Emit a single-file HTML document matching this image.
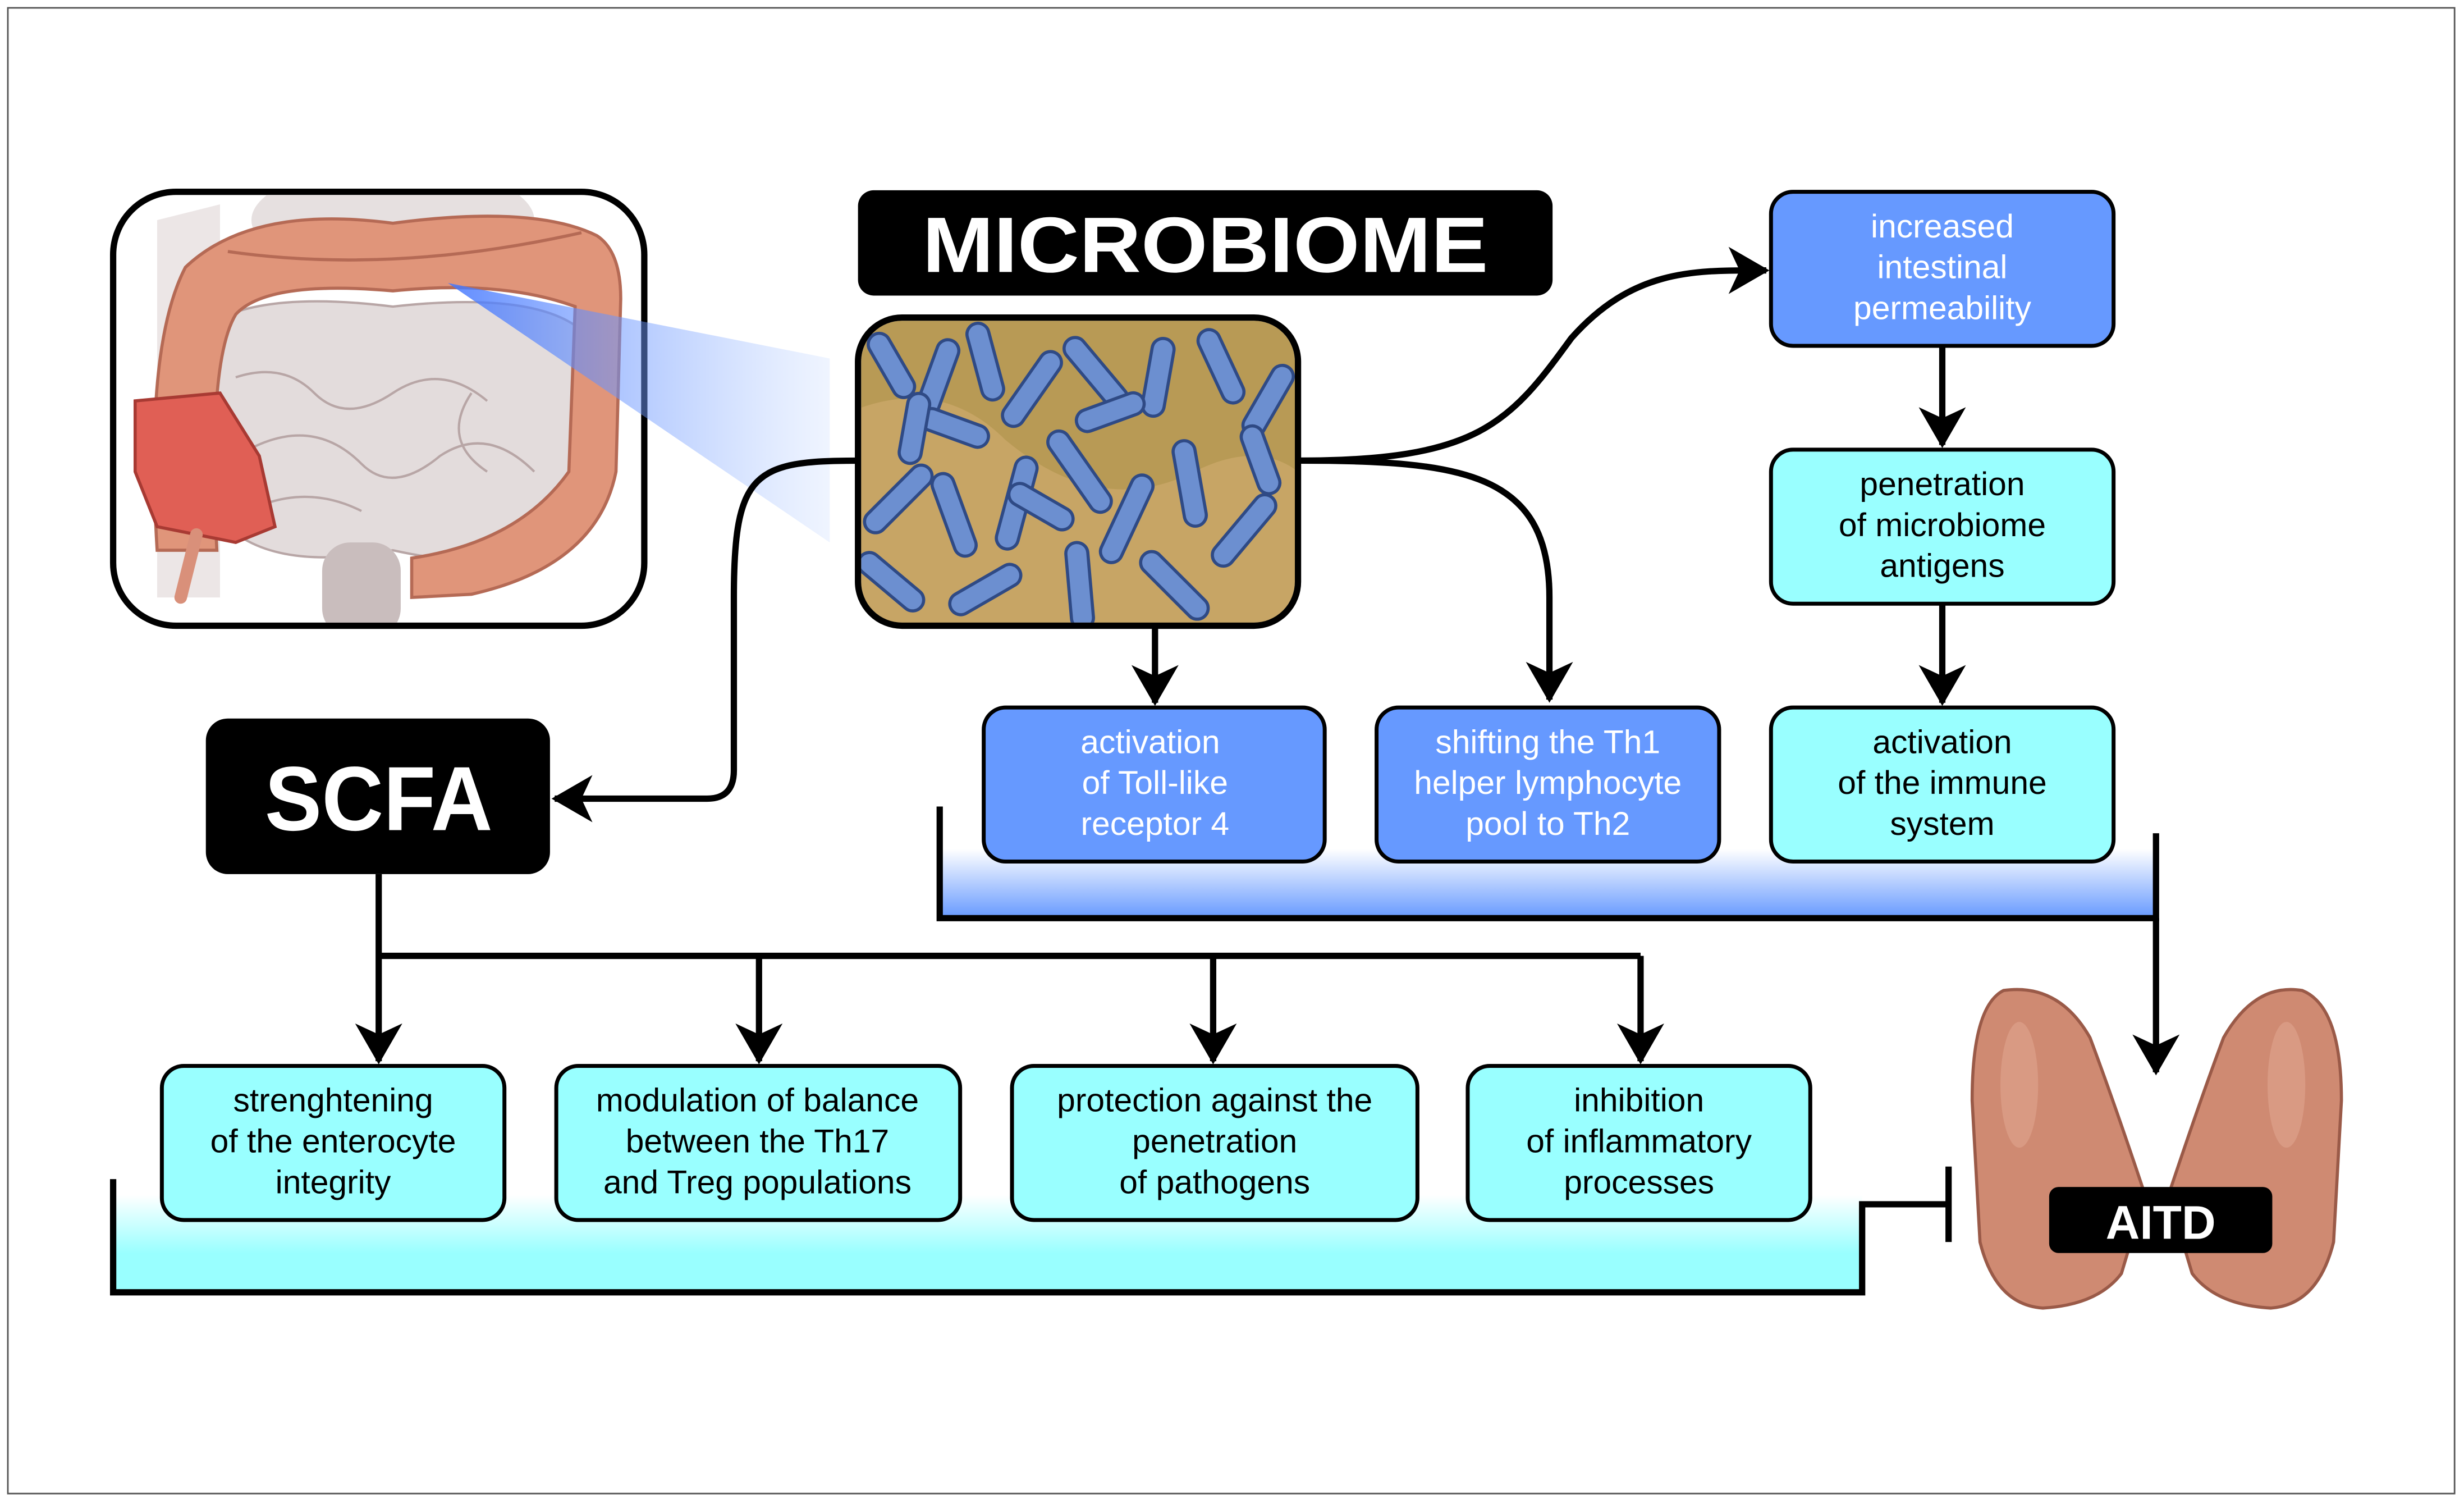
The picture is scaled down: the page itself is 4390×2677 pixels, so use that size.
<!DOCTYPE html>
<html><head><meta charset="utf-8"><style>
html,body{margin:0;padding:0;background:#fff}
svg{display:block}
text{font-family:"Liberation Sans",sans-serif}
</style></head><body>
<svg width="4390" height="2677" viewBox="0 0 1568 956" preserveAspectRatio="none" xmlns="http://www.w3.org/2000/svg">
<defs>
<marker id="ar" viewBox="0 0 26 30" refX="24" refY="15" markerWidth="26" markerHeight="30" markerUnits="userSpaceOnUse" orient="auto"><path d="M0,0 L26,15 L0,30 L7,15z" fill="#000"/></marker>
<linearGradient id="gb" x1="0" y1="0" x2="0" y2="1"><stop offset="0" stop-color="#fff"/><stop offset="1" stop-color="#6699ff"/></linearGradient>
<linearGradient id="gc" x1="0" y1="0" x2="0" y2="1"><stop offset="0" stop-color="#fff"/><stop offset="0.6" stop-color="#99ffff"/><stop offset="1" stop-color="#99ffff"/></linearGradient>
<linearGradient id="cone" x1="285" y1="0" x2="530" y2="0" gradientUnits="userSpaceOnUse"><stop offset="0" stop-color="#4477ff" stop-opacity="0.85"/><stop offset="1" stop-color="#99bbff" stop-opacity="0.15"/></linearGradient>
<clipPath id="cb"><rect x="548" y="204" width="276" height="192" rx="26"/></clipPath>
<clipPath id="ci"><rect x="74" y="124" width="334" height="272" rx="38"/></clipPath>
</defs>
<rect x="5" y="5" width="1557" height="945" fill="#fff" stroke="#555" stroke-width="1"/>

<!-- intestine -->
<rect x="72" y="122" width="338" height="276" rx="40" fill="#fff" stroke="#000" stroke-width="4"/>
<g clip-path="url(#ci)">
<ellipse cx="250" cy="140" rx="90" ry="35" fill="#e6e0e0"/>
<path d="M100,140 L140,130 L140,380 L100,380z" fill="#ece6e6"/>
<path d="M135,205 Q170,185 250,195 Q340,185 370,210 L375,330 Q340,370 250,350 Q170,365 140,330z" fill="#e3dcdc" stroke="#b8a6a6" stroke-width="1.5"/>
<path d="M150,240 q30,-10 50,10 q20,20 50,0 q30,-20 60,5 M160,285 q40,-20 70,10 q20,20 50,-5 q30,-20 60,10 M170,320 q30,-10 60,5 M300,250 q-20,30 10,50" fill="none" stroke="#b8a6a6" stroke-width="1.5"/>
<rect x="205" y="345" width="50" height="60" rx="18" fill="#c9bdbd"/>
<path d="M100,350 Q92,220 118,170 Q160,130 250,142 Q340,130 380,150 Q395,160 395,190 L392,300 Q380,360 300,378 L262,380 L262,355 Q330,345 362,300 L366,195 Q320,178 250,185 Q170,178 150,200 Q132,230 138,350z" fill="#e0957a" stroke="#b56a55" stroke-width="2"/>
<path d="M145,160 Q250,175 370,148" fill="none" stroke="#b56a55" stroke-width="2"/>
<path d="M86,255 L140,250 L165,290 L175,335 L150,345 L100,335 L86,300z" fill="#e05f55" stroke="#a83a33" stroke-width="2"/>
<path d="M125,340 L115,380" stroke="#d9907a" stroke-width="8" stroke-linecap="round"/>
</g>
<path d="M285,180 L528,228 L528,345z" fill="url(#cone)"/>

<!-- MICROBIOME title -->
<rect x="546" y="121" width="442" height="67" rx="10" fill="#000"/>
<text x="767" y="173" text-anchor="middle" font-size="50" font-weight="bold" fill="#fff" textLength="360" lengthAdjust="spacingAndGlyphs">MICROBIOME</text>

<!-- bacteria -->
<g clip-path="url(#cb)">
<rect x="546" y="202" width="280" height="196" fill="#b89a55"/>
<path d="M546,260 Q600,240 640,280 Q700,330 760,300 Q800,280 826,300 L826,398 L546,398z" fill="#c7a565"/>
<g fill="#6c8fd0" stroke="#2f4a85" stroke-width="2">
<rect x="560" y="210" width="14" height="45" rx="7" transform="rotate(-30 567 232)"/>
<rect x="590" y="215" width="14" height="50" rx="7" transform="rotate(20 597 240)"/>
<rect x="620" y="205" width="14" height="50" rx="7" transform="rotate(-15 627 230)"/>
<rect x="650" y="220" width="14" height="55" rx="7" transform="rotate(35 657 247)"/>
<rect x="690" y="210" width="14" height="55" rx="7" transform="rotate(-40 697 237)"/>
<rect x="730" y="215" width="14" height="50" rx="7" transform="rotate(10 737 240)"/>
<rect x="770" y="208" width="14" height="50" rx="7" transform="rotate(-25 777 233)"/>
<rect x="800" y="230" width="14" height="50" rx="7" transform="rotate(30 807 255)"/>
<rect x="565" y="290" width="14" height="55" rx="7" transform="rotate(45 572 317)"/>
<rect x="600" y="300" width="14" height="55" rx="7" transform="rotate(-20 607 327)"/>
<rect x="640" y="290" width="14" height="60" rx="7" transform="rotate(15 647 320)"/>
<rect x="680" y="270" width="14" height="60" rx="7" transform="rotate(-35 687 300)"/>
<rect x="710" y="300" width="14" height="60" rx="7" transform="rotate(25 717 330)"/>
<rect x="750" y="280" width="14" height="55" rx="7" transform="rotate(-10 757 307)"/>
<rect x="785" y="310" width="14" height="55" rx="7" transform="rotate(40 792 337)"/>
<rect x="560" y="345" width="14" height="50" rx="7" transform="rotate(-50 567 370)"/>
<rect x="620" y="350" width="14" height="50" rx="7" transform="rotate(60 627 375)"/>
<rect x="680" y="345" width="14" height="55" rx="7" transform="rotate(-5 687 372)"/>
<rect x="740" y="345" width="14" height="55" rx="7" transform="rotate(-45 747 372)"/>
<rect x="700" y="240" width="14" height="45" rx="7" transform="rotate(70 707 262)"/>
<rect x="600" y="250" width="14" height="45" rx="7" transform="rotate(-70 607 272)"/>
<rect x="575" y="250" width="14" height="45" rx="7" transform="rotate(10 582 272)"/>
<rect x="655" y="300" width="14" height="45" rx="7" transform="rotate(-60 662 322)"/>
<rect x="795" y="270" width="14" height="45" rx="7" transform="rotate(-20 802 292)"/>
</g>
</g>
<rect x="546" y="202" width="280" height="196" rx="28" fill="none" stroke="#000" stroke-width="4"/>

<!-- top right boxes -->
<g stroke="#000" stroke-width="2.5">
<rect x="1127" y="122" width="218" height="98" rx="14" fill="#6699ff"/>
<rect x="1127" y="286" width="218" height="98" rx="14" fill="#99ffff"/>
</g>
<!-- blue bracket -->
<path d="M598,540 L1372,540 L1372,584 L598,584z" fill="url(#gb)"/>
<path d="M598,513 L598,584 L1372,584 L1372,530" fill="none" stroke="#000" stroke-width="4"/>
<g stroke="#000" stroke-width="2.5">
<rect x="626" y="450" width="217" height="98" rx="14" fill="#6699ff"/>
<rect x="876" y="450" width="218" height="98" rx="14" fill="#6699ff"/>
<rect x="1127" y="450" width="218" height="98" rx="14" fill="#99ffff"/>
</g>
<g font-size="21" text-anchor="middle">
<text fill="#fff"><tspan x="1236" y="151">increased</tspan><tspan x="1236" y="177">intestinal</tspan><tspan x="1236" y="203">permeability</tspan></text>
<text fill="#000"><tspan x="1236" y="315">penetration</tspan><tspan x="1236" y="341">of microbiome</tspan><tspan x="1236" y="367">antigens</tspan></text>
<text fill="#fff"><tspan x="732" y="479">activation</tspan><tspan x="735" y="505">of Toll-like</tspan><tspan x="735" y="531">receptor 4</tspan></text>
<text fill="#fff"><tspan x="985" y="479">shifting the Th1</tspan><tspan x="985" y="505">helper lymphocyte</tspan><tspan x="985" y="531">pool to Th2</tspan></text>
<text fill="#000"><tspan x="1236" y="479">activation</tspan><tspan x="1236" y="505">of the immune</tspan><tspan x="1236" y="531">system</tspan></text>
</g>

<!-- arrows -->
<g fill="none" stroke="#000" stroke-width="4" marker-end="url(#ar)">
<path d="M735,398 L735,447"/>
<path d="M826,293 C940,293 960,270 1000,215 C1040,170 1080,172 1124,172"/>
<path d="M826,293 C930,293 986,300 986,380 L986,445"/>
<path d="M1236,220 L1236,283"/>
<path d="M1236,384 L1236,447"/>
<path d="M546,293 C480,293 467,300 467,380 L467,490 Q467,508 450,508 L353,508"/>
<path d="M1372,584 L1372,682"/>
<path d="M241,556 L241,675"/>
<path d="M483,608 L483,675"/>
<path d="M772,608 L772,675"/>
<path d="M1044,608 L1044,675"/>
</g>
<path d="M241,608 L1044,608" stroke="#000" stroke-width="4" fill="none"/>

<!-- SCFA -->
<rect x="131" y="457" width="219" height="99" rx="14" fill="#000"/>
<text x="241" y="528" text-anchor="middle" font-size="58" font-weight="bold" fill="#fff" textLength="145" lengthAdjust="spacingAndGlyphs">SCFA</text>

<!-- cyan bracket -->
<path d="M72,760 L1185,760 L1185,822 L72,822z" fill="url(#gc)"/>
<path d="M72,750 L72,822 L1185,822 L1185,766 L1240,766" fill="none" stroke="#000" stroke-width="4"/>
<path d="M1240,742 L1240,790" stroke="#000" stroke-width="4"/>
<g stroke="#000" stroke-width="2.5" fill="#99ffff">
<rect x="103" y="678" width="218" height="98" rx="14"/>
<rect x="354" y="678" width="257" height="98" rx="14"/>
<rect x="644" y="678" width="258" height="98" rx="14"/>
<rect x="934" y="678" width="218" height="98" rx="14"/>
</g>
<g font-size="21" text-anchor="middle" fill="#000">
<text><tspan x="212" y="707">strenghtening</tspan><tspan x="212" y="733">of the enterocyte</tspan><tspan x="212" y="759">integrity</tspan></text>
<text><tspan x="482" y="707">modulation of balance</tspan><tspan x="482" y="733">between the Th17</tspan><tspan x="482" y="759">and Treg populations</tspan></text>
<text><tspan x="773" y="707">protection against the</tspan><tspan x="773" y="733">penetration</tspan><tspan x="773" y="759">of pathogens</tspan></text>
<text><tspan x="1043" y="707">inhibition</tspan><tspan x="1043" y="733">of inflammatory</tspan><tspan x="1043" y="759">processes</tspan></text>
</g>

<!-- thyroid -->
<g fill="#cf8a72" stroke="#9a5a48" stroke-width="2">
<path d="M1275,630 Q1255,640 1255,700 L1260,790 Q1270,830 1300,832 Q1335,830 1350,810 L1365,760 Q1345,700 1330,660 Q1310,625 1275,630z"/>
<path d="M1465,630 Q1490,640 1490,700 L1485,790 Q1475,830 1445,832 Q1410,830 1395,810 L1380,760 Q1400,700 1415,660 Q1435,625 1465,630z"/>
</g>
<g fill="#e0a58f" opacity="0.6">
<ellipse cx="1285" cy="690" rx="12" ry="40"/><ellipse cx="1455" cy="690" rx="12" ry="40"/>
</g>
<rect x="1304" y="755" width="142" height="42" rx="6" fill="#000"/>
<text x="1375" y="788" text-anchor="middle" font-size="30" font-weight="bold" fill="#fff">AITD</text>
</svg>
</body></html>
